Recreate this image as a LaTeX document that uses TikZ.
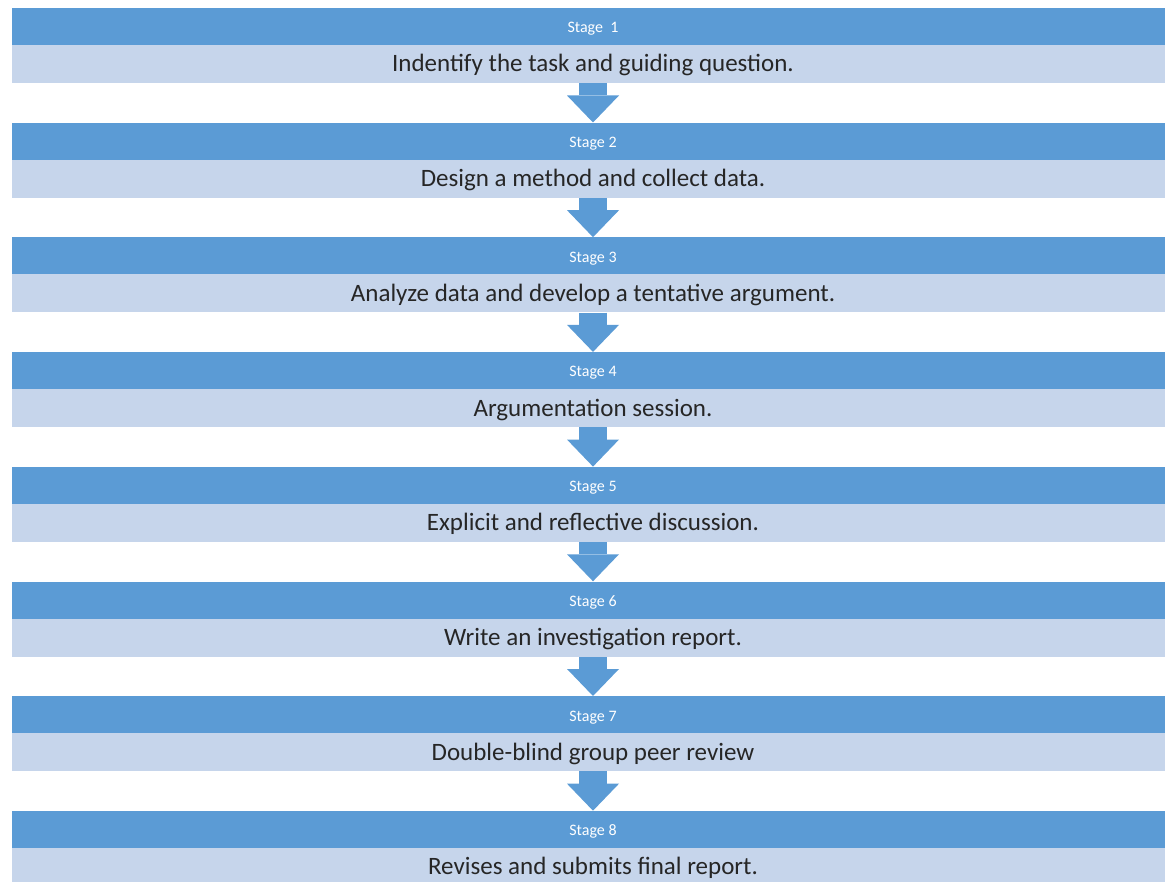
\documentclass[tikz,border=0pt]{standalone}
\usepackage{fontspec}
\setmainfont{Carlito}
\usepackage{tikz}
\usetikzlibrary{arrows.meta}
\pgfdeclarelayer{bg}
\pgfsetlayers{bg,main}
\definecolor{stageblue}{HTML}{5B9BD5}
\definecolor{taskblue}{HTML}{C6D5EB}
\definecolor{tasktext}{HTML}{262626}
\tikzset{
  stagebar/.style={fill=stageblue, minimum width=1162pt, minimum height=37pt, inner sep=0pt,
    text=white, text height=13pt, text depth=0.4pt, font=\fontsize{16}{18}\selectfont},
  taskbar/.style={fill=taskblue, minimum width=1162pt, minimum height=38pt, inner sep=0pt,
    text=tasktext, text height=18pt, text depth=2pt, font=\fontsize{25}{28}\selectfont},
  flowarrow/.style={draw=stageblue, line width=28pt,
    -{Triangle[width=52pt, length=27pt, line width=0pt]}}
}
\begin{document}
\begin{tikzpicture}
        \useasboundingbox (0pt, 0pt) rectangle (1165pt, -882pt);
        \clip (0pt, 0pt) rectangle (1165pt, -882pt);
        \node (s1) [stagebar] at (593pt, -26.5pt) {Stage~~1};
        \node (t1) [taskbar] at (593pt, -64.0pt) {Indentify the task and guiding question.};
        \node (s2) [stagebar] at (593pt, -141.2pt) {Stage 2};
        \node (t2) [taskbar] at (593pt, -178.7pt) {Design a method and collect data.};
        \node (s3) [stagebar] at (593pt, -255.9pt) {Stage 3};
        \node (t3) [taskbar] at (593pt, -293.4pt) {Analyze data and develop a tentative argument.};
        \node (s4) [stagebar] at (593pt, -370.6pt) {Stage 4};
        \node (t4) [taskbar] at (593pt, -408.1pt) {Argumentation session.};
        \node (s5) [stagebar] at (593pt, -485.3pt) {Stage 5};
        \node (t5) [taskbar] at (593pt, -522.8pt) {Explicit and reflective discussion.};
        \node (s6) [stagebar] at (593pt, -600.0pt) {Stage 6};
        \node (t6) [taskbar] at (593pt, -637.5pt) {Write an investigation report.};
        \node (s7) [stagebar] at (593pt, -714.7pt) {Stage 7};
        \node (t7) [taskbar] at (593pt, -752.2pt) {Double-blind group peer review};
        \node (s8) [stagebar] at (593pt, -829.4pt) {Stage 8};
        \node (t8) [taskbar] at (593pt, -866.9pt) {Revises and submits final report.};
        \begin{pgfonlayer}{bg}
                \draw (t1) edge [flowarrow] (s2);
                \draw (t2) edge [flowarrow] (s3);
                \draw (t3) edge [flowarrow] (s4);
                \draw (t4) edge [flowarrow] (s5);
                \draw (t5) edge [flowarrow] (s6);
                \draw (t6) edge [flowarrow] (s7);
                \draw (t7) edge [flowarrow] (s8);
        \end{pgfonlayer}
\end{tikzpicture}
\end{document}
